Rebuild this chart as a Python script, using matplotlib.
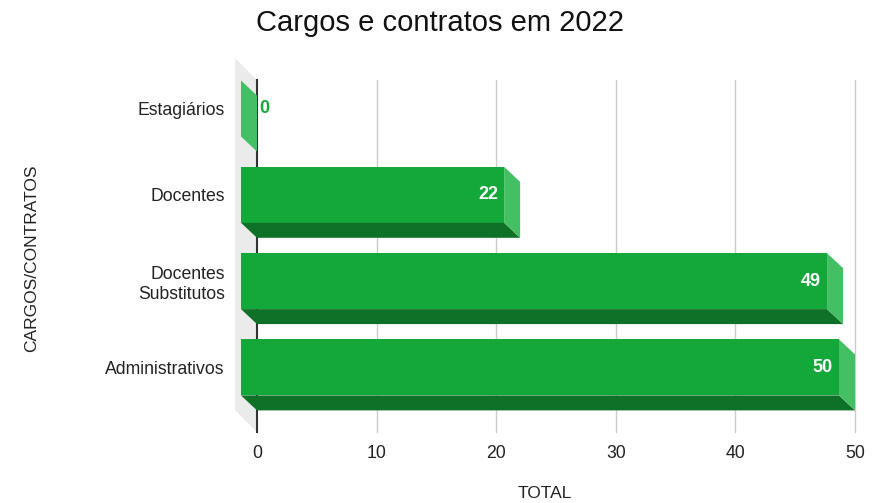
import matplotlib
matplotlib.use("Agg")
import matplotlib.pyplot as plt
from matplotlib.patches import Polygon

plt.rcParams['font.family'] = ['Liberation Sans', 'DejaVu Sans']

categories = ["Estagiários", "Docentes", "Docentes\nSubstitutos", "Administrativos"]
values = [0, 22, 49, 50]
xticks = [0, 10, 20, 30, 40, 50]
title = "Cargos e contratos em 2022"
xlabel = "TOTAL"
ylabel = "CARGOS/CONTRATOS"

front_c = "#14a83b"
bottom_c = "#0e7127"
side_c = "#45bf63"
wall_c = "#ebebeb"

W, H = 877, 503
fig = plt.figure(figsize=(W / 100, H / 100), dpi=100)
x0_px, ppu = 257.0, (855 - 257) / 50.0
ax_left_px, ax_right_px = 233.0, 867.0
ax_top_px, ax_bot_px = 55.0, 435.0
cat0_px, cat_step = 108.5, 86.3
ax = fig.add_axes([ax_left_px / W, 1 - ax_bot_px / H,
                   (ax_right_px - ax_left_px) / W, (ax_bot_px - ax_top_px) / H])
ax.set_xlim((ax_left_px - x0_px) / ppu, (ax_right_px - x0_px) / ppu)
ax.set_ylim((ax_bot_px - cat0_px) / cat_step, (ax_top_px - cat0_px) / cat_step)

dx = 16 / ppu          # bar depth in x
dy = 15 / cat_step     # bar depth in y
hh = 28 / cat_step     # half bar height
wdx = 22 / ppu         # wall depth
wdy = 22 / cat_step
wall_top = (80 - cat0_px) / cat_step
wall_bot = (432 - cat0_px) / cat_step

# wall
ax.add_patch(Polygon([(-wdx, wall_top - wdy), (0, wall_top), (0, wall_bot), (-wdx, wall_bot - wdy)],
                     closed=True, fc=wall_c, ec="none", zorder=1))
# gridlines
for t in xticks[1:]:
    ax.plot([t, t], [wall_top, wall_bot], color="#cccccc", lw=1, zorder=2)
ax.plot([0, 0], [wall_top, wall_bot], color="#333333", lw=1.5, zorder=3)

for i, v in enumerate(values):
    xf0, xf1 = -dx, v - dx
    yt, yb = i - hh, i + hh
    if v > 0:
        # front
        ax.add_patch(Polygon([(xf0, yt), (xf1, yt), (xf1, yb), (xf0, yb)], closed=True,
                             fc=front_c, ec="none", zorder=4))
        # bottom
        ax.add_patch(Polygon([(xf0, yb), (xf1, yb), (xf1 + dx, yb + dy), (xf0 + dx, yb + dy)], closed=True,
                             fc=bottom_c, ec="none", zorder=4))
    # side
    ax.add_patch(Polygon([(xf1, yt), (xf1 + dx, yt + dy), (xf1 + dx, yb + dy), (xf1, yb)], closed=True,
                         fc=side_c, ec="none", zorder=4))
    if v > 0:
        ax.text(xf1 - 6 / ppu, i, str(v), ha="right", va="center", color="white",
                fontsize=13, fontweight="bold", zorder=5)
    else:
        ax.text(2 / ppu, i, str(v), ha="left", va="center", color=front_c,
                fontsize=13, fontweight="bold", zorder=5)

ax.set_xticks(xticks)
ax.set_xticklabels([str(t) for t in xticks])
ax.set_yticks(range(len(categories)))
ax.set_yticklabels(categories, multialignment="right")
ax.tick_params(axis="both", length=0, labelsize=12.7, colors="#222222")
ax.tick_params(axis="x", pad=7)
ax.tick_params(axis="y", pad=6)
for s in ax.spines.values():
    s.set_visible(False)

fig.text(440 / W, 1 - 23 / H, title, ha="center", va="center", fontsize=21, color="#111111")
fig.text(545 / W, 1 - 493 / H, xlabel, ha="center", va="center", fontsize=12.5, color="#222222")
fig.text(32 / W, 1 - 258 / H, ylabel, ha="center", va="center", rotation=90, fontsize=12.5, color="#222222")

fig.savefig("out.png", dpi=100)
